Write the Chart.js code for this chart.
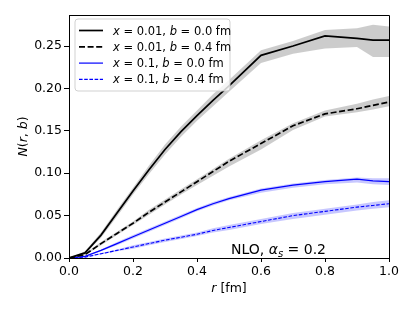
<!DOCTYPE html>
<html><head><meta charset="utf-8">
<script src="https://cdn.jsdelivr.net/npm/chart.js@4/dist/chart.umd.min.js"></script>
<style>html,body{margin:0;padding:0;background:#fff}#wrap{position:relative;width:415px;height:311px}</style>
</head><body><div id="wrap"><canvas id="c" width="415" height="311"></canvas></div>
<script>
const rValues = [0,0.05,0.1,0.15,0.2,0.25,0.3,0.35,0.4,0.45,0.5,0.6,0.7,0.8,0.9,0.95,1.0];
const solidX001 = [0,0.006,0.027,0.053,0.079,0.104,0.128,0.149,0.168,0.186,0.203,0.239,0.250,0.262,0.259,0.257,0.257];
const solidX001Lo = [0,0.005,0.024,0.049,0.075,0.099,0.122,0.143,0.162,0.179,0.196,0.230,0.241,0.247,0.249,0.237,0.237];
const solidX001Hi = [0,0.008,0.030,0.057,0.083,0.109,0.134,0.155,0.174,0.193,0.210,0.245,0.256,0.269,0.271,0.275,0.273];
const dashX001 = [0,0.004,0.017,0.029,0.041,0.054,0.066,0.078,0.090,0.102,0.114,0.135,0.156,0.170,0.176,0.180,0.184];
const dashX001Lo = [0,0.003,0.015,0.027,0.039,0.051,0.063,0.075,0.086,0.097,0.108,0.128,0.151,0.167,0.172,0.175,0.179];
const dashX001Hi = [0,0.005,0.019,0.031,0.043,0.057,0.069,0.081,0.093,0.105,0.117,0.139,0.159,0.174,0.182,0.187,0.191];
const solidX01 = [0,0.002,0.009,0.017,0.025,0.033,0.041,0.049,0.057,0.064,0.070,0.080,0.086,0.090,0.093,0.091,0.090];
const solidX01Lo = [0,0.0015,0.008,0.015,0.023,0.031,0.039,0.047,0.055,0.062,0.068,0.077,0.083,0.087,0.089,0.087,0.086];
const solidX01Hi = [0,0.0025,0.010,0.019,0.027,0.035,0.043,0.051,0.059,0.066,0.072,0.082,0.088,0.092,0.095,0.094,0.094];
const dashX01 = [0,0.001,0.005,0.009,0.013,0.017,0.021,0.0245,0.028,0.0325,0.036,0.043,0.050,0.055,0.060,0.062,0.064];
const dashX01Lo = [0,0.0005,0.004,0.008,0.011,0.015,0.019,0.0225,0.026,0.030,0.033,0.040,0.046,0.051,0.056,0.058,0.060];
const dashX01Hi = [0,0.0015,0.006,0.010,0.015,0.019,0.023,0.0265,0.030,0.035,0.039,0.046,0.053,0.058,0.063,0.066,0.068];
const xTicks = [0,0.2,0.4,0.6,0.8,1.0];
const yTicks = [0,0.05,0.10,0.15,0.20,0.25];

const FONT = "'DejaVu Sans', sans-serif";
const pts = arr => rValues.map((r,i)=>({x:r,y:arr[i]}));
const GREY = 'rgba(128,128,128,0.4)';
const LBLUE = 'rgba(0,0,255,0.22)';

function band(lo, hi, color){
  return [
    {data:pts(lo), borderWidth:0, pointRadius:0, fill:false, order:10, backgroundColor:color, borderColor:'rgba(0,0,0,0)', tension:0},
    {data:pts(hi), borderWidth:0, pointRadius:0, fill:'-1', order:10, backgroundColor:color, borderColor:'rgba(0,0,0,0)', tension:0}
  ];
}
const datasets = [
  ...band(solidX001Lo, solidX001Hi, GREY),
  ...band(dashX001Lo, dashX001Hi, GREY),
  ...band(solidX01Lo, solidX01Hi, LBLUE),
  ...band(dashX01Lo, dashX01Hi, LBLUE),
  {data:pts(solidX001), borderColor:'#000', borderWidth:1.7, pointRadius:0, fill:false, order:1, tension:0},
  {data:pts(dashX001), borderColor:'#000', borderWidth:1.7, borderDash:[6,2.6], pointRadius:0, fill:false, order:1, tension:0},
  {data:pts(solidX01), borderColor:'#0000ff', borderWidth:1.2, pointRadius:0, fill:false, order:1, tension:0},
  {data:pts(dashX01), borderColor:'#0000ff', borderWidth:1.1, borderDash:[3.6,1.6], pointRadius:0, fill:false, order:1, tension:0}
];

function drawSegs(ctx, segs, x, y, align){
  let total = 0;
  const w = segs.map(s=>{ctx.font=(s[1]?'italic ':'')+(s[2])+'px '+FONT; const m=ctx.measureText(s[0]).width; total+=m; return m;});
  let cx = align==='center' ? x-total/2 : x;
  segs.forEach((s,i)=>{ctx.font=(s[1]?'italic ':'')+(s[2])+'px '+FONT; ctx.fillText(s[0], cx, y+(s[3]||0)); cx+=w[i];});
}

const deco = {
  id:'deco',
  afterDraw(chart){
    const ctx = chart.ctx, a = chart.chartArea;
    ctx.save();
    ctx.strokeStyle='#000'; ctx.lineWidth=1;
    ctx.beginPath(); ctx.moveTo(a.left, a.top+0.5); ctx.lineTo(a.right+0.5, a.top+0.5); ctx.lineTo(a.right+0.5, a.bottom); ctx.stroke();
    ctx.fillStyle='#000'; ctx.textBaseline='alphabetic';
    drawSegs(ctx, [['r',true,12.5],[' [fm]',false,12.5]], (a.left+a.right)/2, 292, 'center');
    ctx.save(); ctx.translate(27, (a.top+a.bottom)/2); ctx.rotate(-Math.PI/2);
    drawSegs(ctx, [['N',true,12.5],['(',false,12.5],['r',true,12.5],[', ',false,12.5],['b',true,12.5],[')',false,12.5]], 0, 0, 'center');
    ctx.restore();
    drawSegs(ctx, [['NLO, ',false,14],['α',true,14],['s',true,10,3],[' = 0.2',false,14]], 231, 254, 'left');
    const lx=75, ly=19, lw=155, lh=72, rad=3;
    ctx.beginPath();
    ctx.moveTo(lx+rad,ly); ctx.lineTo(lx+lw-rad,ly); ctx.quadraticCurveTo(lx+lw,ly,lx+lw,ly+rad);
    ctx.lineTo(lx+lw,ly+lh-rad); ctx.quadraticCurveTo(lx+lw,ly+lh,lx+lw-rad,ly+lh);
    ctx.lineTo(lx+rad,ly+lh); ctx.quadraticCurveTo(lx,ly+lh,lx,ly+lh-rad);
    ctx.lineTo(lx,ly+rad); ctx.quadraticCurveTo(lx,ly,lx+rad,ly); ctx.closePath();
    ctx.fillStyle='rgba(255,255,255,0.8)'; ctx.fill();
    ctx.strokeStyle='rgba(204,204,204,0.9)'; ctx.lineWidth=1; ctx.stroke();
    const items = [
      {c:'#000', w:1.7, d:[], x:'0.01', b:'0.0'},
      {c:'#000', w:1.7, d:[6,2.6], x:'0.01', b:'0.4'},
      {c:'#0000ff', w:1.2, d:[], x:'0.1', b:'0.0'},
      {c:'#0000ff', w:1.1, d:[3.6,1.6], x:'0.1', b:'0.4'}
    ];
    items.forEach((it,i)=>{
      const yy = 30.5 + i*16.3;
      ctx.strokeStyle=it.c; ctx.lineWidth=it.w; ctx.setLineDash(it.d);
      ctx.beginPath(); ctx.moveTo(79,yy); ctx.lineTo(103,yy); ctx.stroke();
      ctx.setLineDash([]);
      ctx.fillStyle='#000';
      drawSegs(ctx, [['x',true,11.5],[' = '+it.x+', ',false,11.5],['b',true,11.5],[' = '+it.b+' fm',false,11.5]], 113, yy+4, 'left');
    });
    ctx.restore();
  }
};

new Chart(document.getElementById('c'), {
  type:'line',
  data:{datasets},
  options:{
    responsive:false, animation:false, devicePixelRatio:1,
    layout:{padding:{left:0, right:26, top:15, bottom:0}},
    plugins:{legend:{display:false}, tooltip:{enabled:false}, filler:{propagate:false}},
    scales:{
      x:{type:'linear', min:0, max:1,
        afterFit(s){s.height=53;},
        afterBuildTicks(s){s.ticks = xTicks.map(v=>({value:v}));},
        grid:{display:true, drawOnChartArea:false, drawTicks:true, tickLength:4, color:'#000'},
        border:{display:true, color:'#000', width:1},
        ticks:{color:'#000', padding:2, maxRotation:0, font:{family:FONT, size:12.5}, callback:v=>v.toFixed(1)}
      },
      y:{type:'linear', min:0, max:0.2866,
        afterFit(s){s.width=69;},
        afterBuildTicks(s){s.ticks = yTicks.map(v=>({value:v}));},
        grid:{display:true, drawOnChartArea:false, drawTicks:true, tickLength:5, color:'#000'},
        border:{display:true, color:'#000', width:1},
        ticks:{color:'#000', padding:2, font:{family:FONT, size:12.5}, callback:v=>v.toFixed(2)}
      }
    }
  },
  plugins:[deco]
});
</script></body></html>
